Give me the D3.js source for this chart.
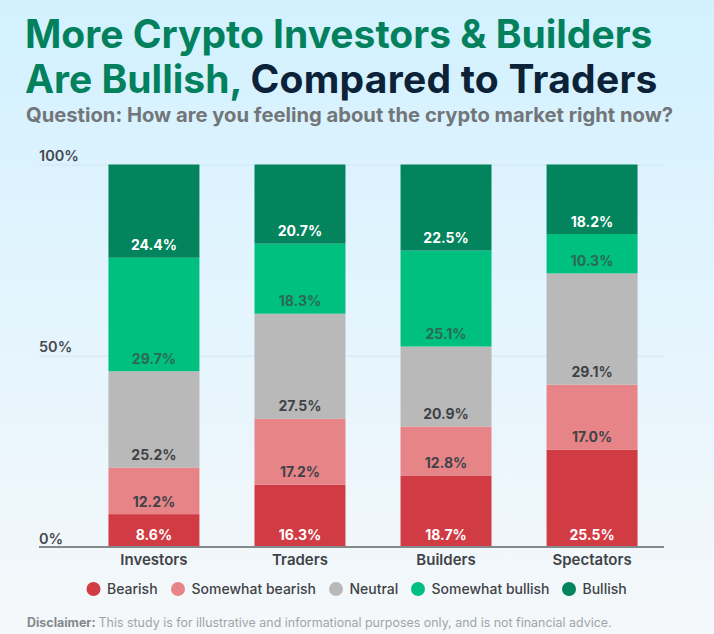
<!DOCTYPE html>
<html>
<head>
<meta charset="utf-8">
<script src="https://cdn.jsdelivr.net/npm/d3@7"></script>
<style>
  html, body { margin: 0; padding: 0; }
  svg { display: block; font-family: Inter, "Noto Sans", sans-serif; }
</style>
</head>
<body>
<svg id="chart" width="714" height="634"></svg>
<script>
var width = 714;
var height = 634;

var groups = ['Investors', 'Traders', 'Builders', 'Spectators'];
var sentiments = ['Bearish', 'Somewhat bearish', 'Neutral', 'Somewhat bullish', 'Bullish'];
var bearish = [8.6, 16.3, 18.7, 25.5];
var somewhatBearish = [12.2, 17.2, 12.8, 17.0];
var neutral = [25.2, 27.5, 20.9, 29.1];
var somewhatBullish = [29.7, 18.3, 25.1, 10.3];
var bullish = [24.4, 20.7, 22.5, 18.2];
var yTicks = [0, 50, 100];

var colors = ['#d13b43', '#e78488', '#b9b9b9', '#00c07f', '#03845c'];
var labelColors = ['#ffffff', '#3f4347', '#3f4347', '#2c6a55', '#ffffff'];

var svg = d3.select('#chart');

var defs = svg.append('defs');
var bg = defs.append('linearGradient').attr('id', 'bg')
    .attr('x1', 0).attr('y1', 0).attr('x2', 0).attr('y2', 1);
bg.append('stop').attr('offset', '0%').attr('stop-color', '#d2f1ff');
bg.append('stop').attr('offset', '55%').attr('stop-color', '#e6f5fd');
bg.append('stop').attr('offset', '100%').attr('stop-color', '#f5f8fa');

svg.append('rect').attr('width', width).attr('height', height).attr('fill', 'url(#bg)');

// title
var title1 = svg.append('text').attr('x', 25).attr('y', 48)
    .attr('font-size', 39).attr('font-weight', 700).attr('fill', '#03805c')
    .text('More Crypto Investors & Builders');
var title2 = svg.append('text').attr('x', 25).attr('y', 93)
    .attr('font-size', 39).attr('font-weight', 700).attr('fill', '#03805c');
title2.append('tspan').text('Are Bullish, ');
title2.append('tspan').attr('fill', '#0c2238').attr('letter-spacing', 0.25).text('Compared to Traders');
svg.append('text').attr('x', 26).attr('y', 122)
    .attr('font-size', 20.2).attr('font-weight', 700).attr('fill', '#737679')
    .text('Question: How are you feeling about the crypto market right now?');

var x = d3.scaleBand().domain(groups).range([81, 665]).paddingInner(0.377).paddingOuter(0.188);
var y = d3.scaleLinear().domain([0, 100]).range([547, 164.5]);

// grid lines and y labels
var yAxis = svg.append('g').attr('transform', 'translate(39,0)')
    .call(d3.axisRight(y).tickValues(yTicks).tickSize(625).tickFormat(function(d) { return d + '%'; }));
yAxis.select('.domain').remove();
yAxis.selectAll('.tick line').attr('stroke', '#d3e6ee').attr('stroke-width', 1);
yAxis.selectAll('.tick text')
    .attr('x', 0).attr('dy', -4)
    .attr('font-size', 14.5).attr('font-weight', 600).attr('fill', '#46494d')
    .attr('font-family', 'Inter');

// stacked bars
var rows = groups.map(function(g, i) {
    return {
        group: g,
        'Bearish': bearish[i],
        'Somewhat bearish': somewhatBearish[i],
        'Neutral': neutral[i],
        'Somewhat bullish': somewhatBullish[i],
        'Bullish': bullish[i]
    };
});

var stack = d3.stack().keys(sentiments).offset(d3.stackOffsetExpand);
var layers = svg.selectAll('.layer').data(stack(rows)).join('g').attr('class', 'layer');

layers.selectAll('rect').data(function(d) { return d; }).join('rect')
    .attr('x', function(d) { return x(d.data.group); })
    .attr('width', x.bandwidth())
    .attr('y', function(d) { return y(d[1] * 100); })
    .attr('height', function(d) { return y(d[0] * 100) - y(d[1] * 100); })
    .attr('fill', function() { return colors[sentiments.indexOf(d3.select(this.parentNode).datum().key)]; });

layers.selectAll('text').data(function(d) {
    return d.map(function(p) { return { p: p, key: d.key }; });
}).join('text')
    .attr('x', function(d) { return x(d.p.data.group) + x.bandwidth() / 2; })
    .attr('y', function(d) { return y(d.p[0] * 100) - 7.5; })
    .attr('text-anchor', 'middle')
    .attr('font-size', 14)
    .attr('font-weight', 700)
    .attr('fill', function(d) { return labelColors[sentiments.indexOf(d.key)]; })
    .text(function(d) { return d.p.data[d.key].toFixed(1) + '%'; });

// baseline
var xAxis = svg.append('g').attr('transform', 'translate(0,547)')
    .call(d3.axisBottom(x).tickSize(0));
xAxis.select('.domain').remove();
xAxis.selectAll('.tick text').attr('dy', 15)
    .attr('font-size', 15).attr('font-weight', 600).attr('fill', '#3f4347')
    .attr('font-family', 'Inter');
svg.append('line').attr('x1', 39).attr('x2', 664).attr('y1', 547).attr('y2', 547)
    .attr('stroke', '#85898c').attr('stroke-width', 2);

// legend
var legendDotX = [93.5, 178, 336, 418, 569];
var legend = svg.selectAll('.legend').data(sentiments).join('g').attr('class', 'legend')
    .attr('transform', function(d, i) { return 'translate(' + legendDotX[i] + ',589)'; });
legend.append('circle').attr('r', 7).attr('fill', function(d, i) { return colors[i]; });
legend.append('text').attr('x', 13.5).attr('dy', '0.35em')
    .attr('font-size', 14).attr('font-weight', 500).attr('fill', '#3f4347')
    .text(function(d) { return d; });

// disclaimer
var note = svg.append('text').attr('x', 27).attr('y', 627)
    .attr('font-size', 12.45).attr('fill', '#a1a4a7');
note.append('tspan').attr('font-weight', 700).attr('fill', '#85888b').text('Disclaimer: ');
note.append('tspan').text('This study is for illustrative and informational purposes only, and is not financial advice.');
</script>
</body>
</html>
